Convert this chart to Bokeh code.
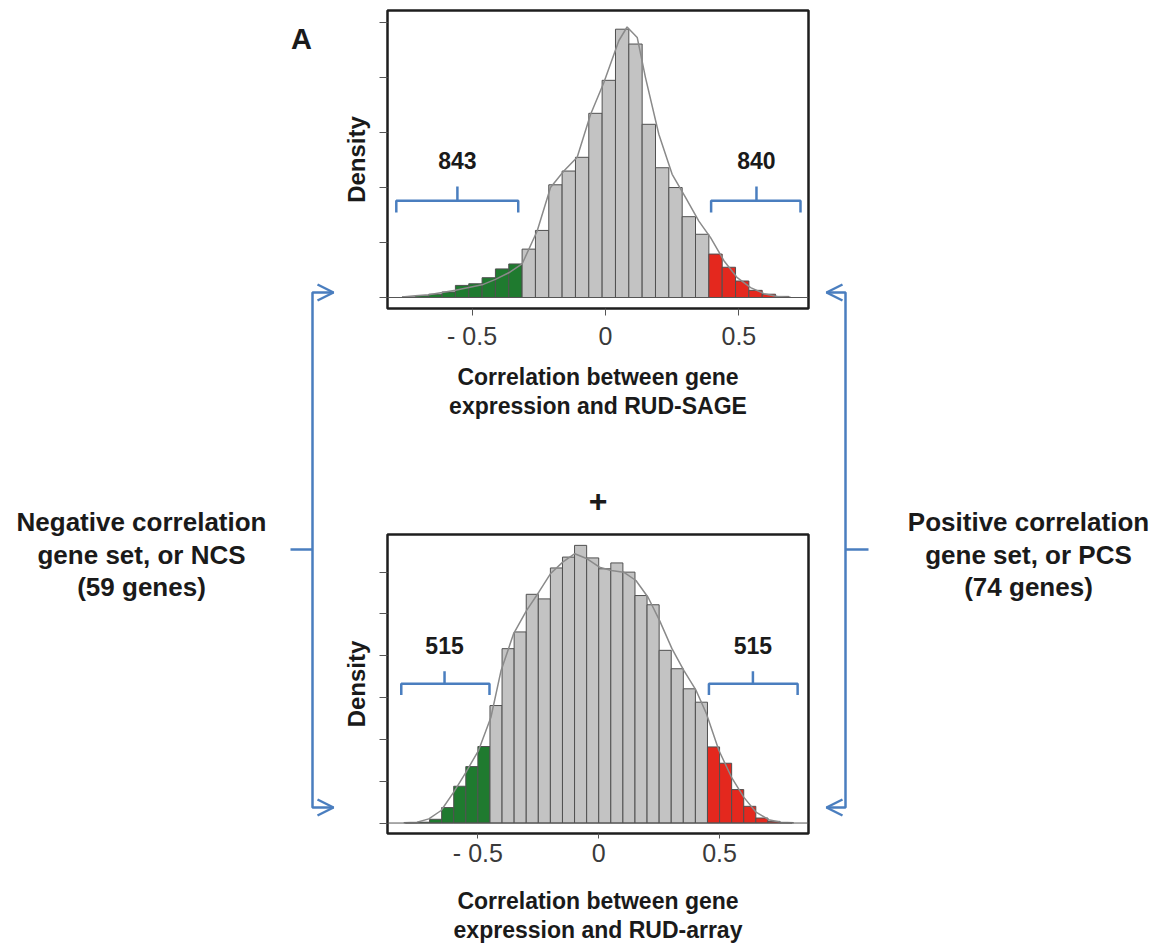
import numpy as np
from bokeh.plotting import figure
from bokeh.models import Range1d, FixedTicker, Span, ColumnDataSource
from bokeh.layouts import row, column
from bokeh.core.properties import value
from bokeh.embed import file_html
from bokeh.resources import INLINE

FONT = "Liberation Sans"

# ---------------- data ----------------
bin_width = 0.05

# Panel A top: correlation between gene expression and RUD-SAGE
top_bin_start = -0.7625
top_density = [0.01, 0.03, 0.06, 0.10, 0.22, 0.25, 0.36, 0.52, 0.61,
               0.88, 1.22, 2.05, 2.30, 2.55, 3.35, 3.95, 4.88, 4.61, 3.15,
               2.36, 2.00, 1.47, 1.15,
               0.79, 0.55, 0.30, 0.13, 0.06, 0.02]
top_neg_cut = -0.3125
top_pos_cut = 0.3875
top_curve_x = [-0.7625, -0.7125, -0.6625, -0.6125, -0.5625, -0.5125, -0.4625, -0.4125,
               -0.3625, -0.3125, -0.256, -0.206, -0.156, -0.106, -0.056, -0.006, 0.05,
               0.081, 0.119, 0.15, 0.2, 0.25, 0.3, 0.35, 0.394, 0.444, 0.494, 0.544,
               0.594, 0.644, 0.694]
top_curve_y = [0.01, 0.03, 0.05, 0.09, 0.13, 0.18, 0.23, 0.33, 0.45, 0.61, 1.21, 2.0,
               2.3, 2.55, 3.33, 3.91, 4.67, 4.92, 4.73, 4.0, 2.97, 2.24, 1.82, 1.39,
               1.09, 0.67, 0.36, 0.18, 0.07, 0.02, 0.005]
top_counts = ["843", "840"]

# Panel A bottom: correlation between gene expression and RUD-array
bot_bin_start = -0.80
bot_density = [0.01, 0.02, 0.09, 0.37, 0.88, 1.35, 1.83,
               2.81, 4.17, 4.57, 5.47, 5.36, 6.10, 6.36, 6.64, 6.34, 6.08, 6.22,
               6.00, 5.44, 5.22, 4.13, 3.69, 3.21, 2.89,
               1.82, 1.43, 0.80, 0.40, 0.12, 0.04, 0.01]
bot_neg_cut = -0.45
bot_pos_cut = 0.45
bot_curve_x = [-0.807, -0.752, -0.703, -0.652, -0.6, -0.549, -0.497, -0.446, -0.404,
               -0.352, -0.299, -0.248, -0.2, -0.149, -0.099, -0.048, 0.003, 0.052,
               0.103, 0.154, 0.204, 0.252, 0.303, 0.352, 0.403, 0.446, 0.497, 0.549,
               0.6, 0.651, 0.703, 0.754, 0.807]
bot_curve_y = [0.01, 0.02, 0.1, 0.3, 0.74, 1.22, 1.74, 2.53, 3.65, 4.53, 5.08, 5.52,
               5.96, 6.24, 6.44, 6.32, 6.12, 6.04, 6.0, 5.8, 5.4, 4.84, 4.17, 3.65,
               3.17, 2.61, 1.74, 1.1, 0.62, 0.26, 0.08, 0.02, 0.01]
bot_counts = ["515", "515"]

x_ticks = [-0.5, 0, 0.5]
x_tick_labels = ["- 0.5", "0", "0.5"]

left_text = ["Negative correlation", "gene set, or NCS", "(59 genes)"]
right_text = ["Positive correlation", "gene set, or PCS", "(74 genes)"]

GRAY = "#c3c3c3"
GREEN = "#1f7a2f"
RED = "#e4281e"
BLUE = "#4a7ebf"
TXT = "#1a1a1a"


def hist_panel(start, dens, neg_cut, pos_cut, cx, cy, xr, yr, nyt, title,
               counts, brk, fig_h, top_b, bot_b, tick_out_x, lab_standoff, title_standoff):
    n = len(dens)
    edges = start + bin_width * np.arange(n + 1)
    left, right = edges[:-1], edges[1:]
    cols = [GREEN if r <= neg_cut + 1e-9 else (RED if l >= pos_cut - 1e-9 else GRAY)
            for l, r in zip(left, right)]
    p = figure(width=485, height=fig_h, x_range=Range1d(*xr), y_range=Range1d(*yr),
               output_backend="svg", toolbar_location=None,
               min_border_left=50, min_border_right=14,
               min_border_top=top_b, min_border_bottom=bot_b)
    p.grid.visible = False
    p.outline_line_color = "#1e1e1e"
    p.outline_line_width = 2.5
    p.background_fill_color = "white"
    src = ColumnDataSource(dict(left=left, right=right, top=dens, color=cols))
    p.quad(left="left", right="right", bottom=0, top="top", source=src,
           fill_color="color", line_color="#505050", line_width=1)
    p.add_layout(Span(location=0, dimension="width", line_color="#555555", line_width=1))
    p.line(cx, cy, line_color="#8a8a8a", line_width=1.5)

    # brackets
    (lx0, lx1, lmid), (rx0, rx1, rmid), (yh, ye, yt, ylab) = brk
    p.multi_line([[lx0, lx0, lx1, lx1], [lmid, lmid], [rx0, rx0, rx1, rx1], [rmid, rmid]],
                 [[ye, yh, yh, ye], [yh, yt], [ye, yh, yh, ye], [yh, yt]],
                 line_color=BLUE, line_width=2.5)
    p.text([lmid, rmid], [ylab, ylab], text=counts, text_align="center",
           text_baseline="middle", text_font=value(FONT), text_font_style="bold",
           text_font_size="23px", text_color=TXT)

    xa = p.xaxis[0]
    xa.ticker = FixedTicker(ticks=x_ticks)
    xa.major_label_overrides = {t: s for t, s in zip(x_ticks, x_tick_labels)}
    xa.axis_line_color = None
    xa.major_tick_line_color = "#555555"
    xa.major_tick_out = tick_out_x
    xa.major_tick_in = 0
    xa.minor_tick_line_color = None
    xa.major_label_text_font = FONT
    xa.major_label_text_font_size = "25px"
    xa.major_label_text_color = "#3a3a3a"
    xa.major_label_standoff = lab_standoff
    xa.axis_label = title
    xa.axis_label_text_font = FONT
    xa.axis_label_text_font_style = "bold"
    xa.axis_label_text_font_size = "23px"
    xa.axis_label_text_line_height = 1.15
    xa.axis_label_text_color = TXT
    xa.axis_label_standoff = title_standoff

    ya = p.yaxis[0]
    ya.ticker = FixedTicker(ticks=list(range(nyt)))
    ya.major_label_overrides = {i: "" for i in range(nyt)}
    ya.axis_line_color = None
    ya.major_tick_line_color = "#555555"
    ya.major_tick_out = 8
    ya.major_tick_in = 0
    ya.minor_tick_line_color = None
    ya.major_label_standoff = 0
    ya.axis_label = "Density"
    ya.axis_label_text_font = FONT
    ya.axis_label_text_font_style = "bold"
    ya.axis_label_text_font_size = "24px"
    ya.axis_label_text_color = TXT
    ya.axis_label_standoff = 10
    return p


top = hist_panel(top_bin_start, top_density, top_neg_cut, top_pos_cut,
                 top_curve_x, top_curve_y, (-0.817, 0.761), (-0.2, 5.22), 6,
                 "Correlation between gene\nexpression and RUD-SAGE", top_counts,
                 ((-0.784, -0.327, -0.555), (0.396, 0.731, 0.566), (1.76, 1.545, 2.02, 2.49)),
                 430, 10, 122, 7, 6, 11)

bot = hist_panel(bot_bin_start, bot_density, bot_neg_cut, bot_pos_cut,
                 bot_curve_x, bot_curve_y, (-0.874, 0.868), (-0.25, 6.9), 7,
                 "Correlation between gene\nexpression and RUD-array", bot_counts,
                 ((-0.817, -0.452, -0.638), (0.456, 0.823, 0.638), (3.33, 3.06, 3.63, 4.25)),
                 516, 104, 113, 5, 0, 18)
# the "+" joining the two panels, as the lower panel's title
bot.title.text = "+"
bot.title.align = "center"
bot.title.standoff = 45
bot.title.text_font = FONT
bot.title.text_font_style = "bold"
bot.title.text_font_size = "32px"
bot.title.text_color = TXT


def canvas(x0, x1, y0, y1):
    c = figure(width=x1 - x0, height=y1 - y0, x_range=Range1d(x0, x1),
               y_range=Range1d(y1, y0), x_axis_type=None, y_axis_type=None,
               output_backend="svg", toolbar_location=None, min_border=0)
    c.grid.visible = False
    c.outline_line_color = None
    return c


left = canvas(0, 337, 0, 946)
left.text([301], [38], text=["A"], text_align="center", text_baseline="middle",
          text_font=value(FONT), text_font_style="bold", text_font_size="29px",
          text_color=TXT)
left.multi_line([[333, 312, 312, 333], [317, 333, 317], [317, 333, 317], [290, 312]],
                [[292, 292, 807, 807], [284, 292, 300], [799, 807, 815], [549, 549]],
                line_color=BLUE, line_width=2.5)
left.text([141] * 3, [521, 554, 586], text=left_text, text_align="center",
          text_baseline="middle", text_font=value(FONT), text_font_style="bold",
          text_font_size="26px", text_color=TXT)

right = canvas(822, 1152, 0, 946)
right.multi_line([[826, 845, 845, 826], [842, 826, 842], [842, 826, 842], [845, 868]],
                 [[292, 292, 807, 807], [284, 292, 300], [799, 807, 815], [549, 549]],
                 line_color=BLUE, line_width=2.5)
right.text([1028] * 3, [521, 554, 586], text=right_text, text_align="center",
           text_baseline="middle", text_font=value(FONT), text_font_style="bold",
           text_font_size="26px", text_color=TXT)

layout = row(left, column(top, bot), right)

open("out.html", "w").write(file_html(layout, INLINE))
